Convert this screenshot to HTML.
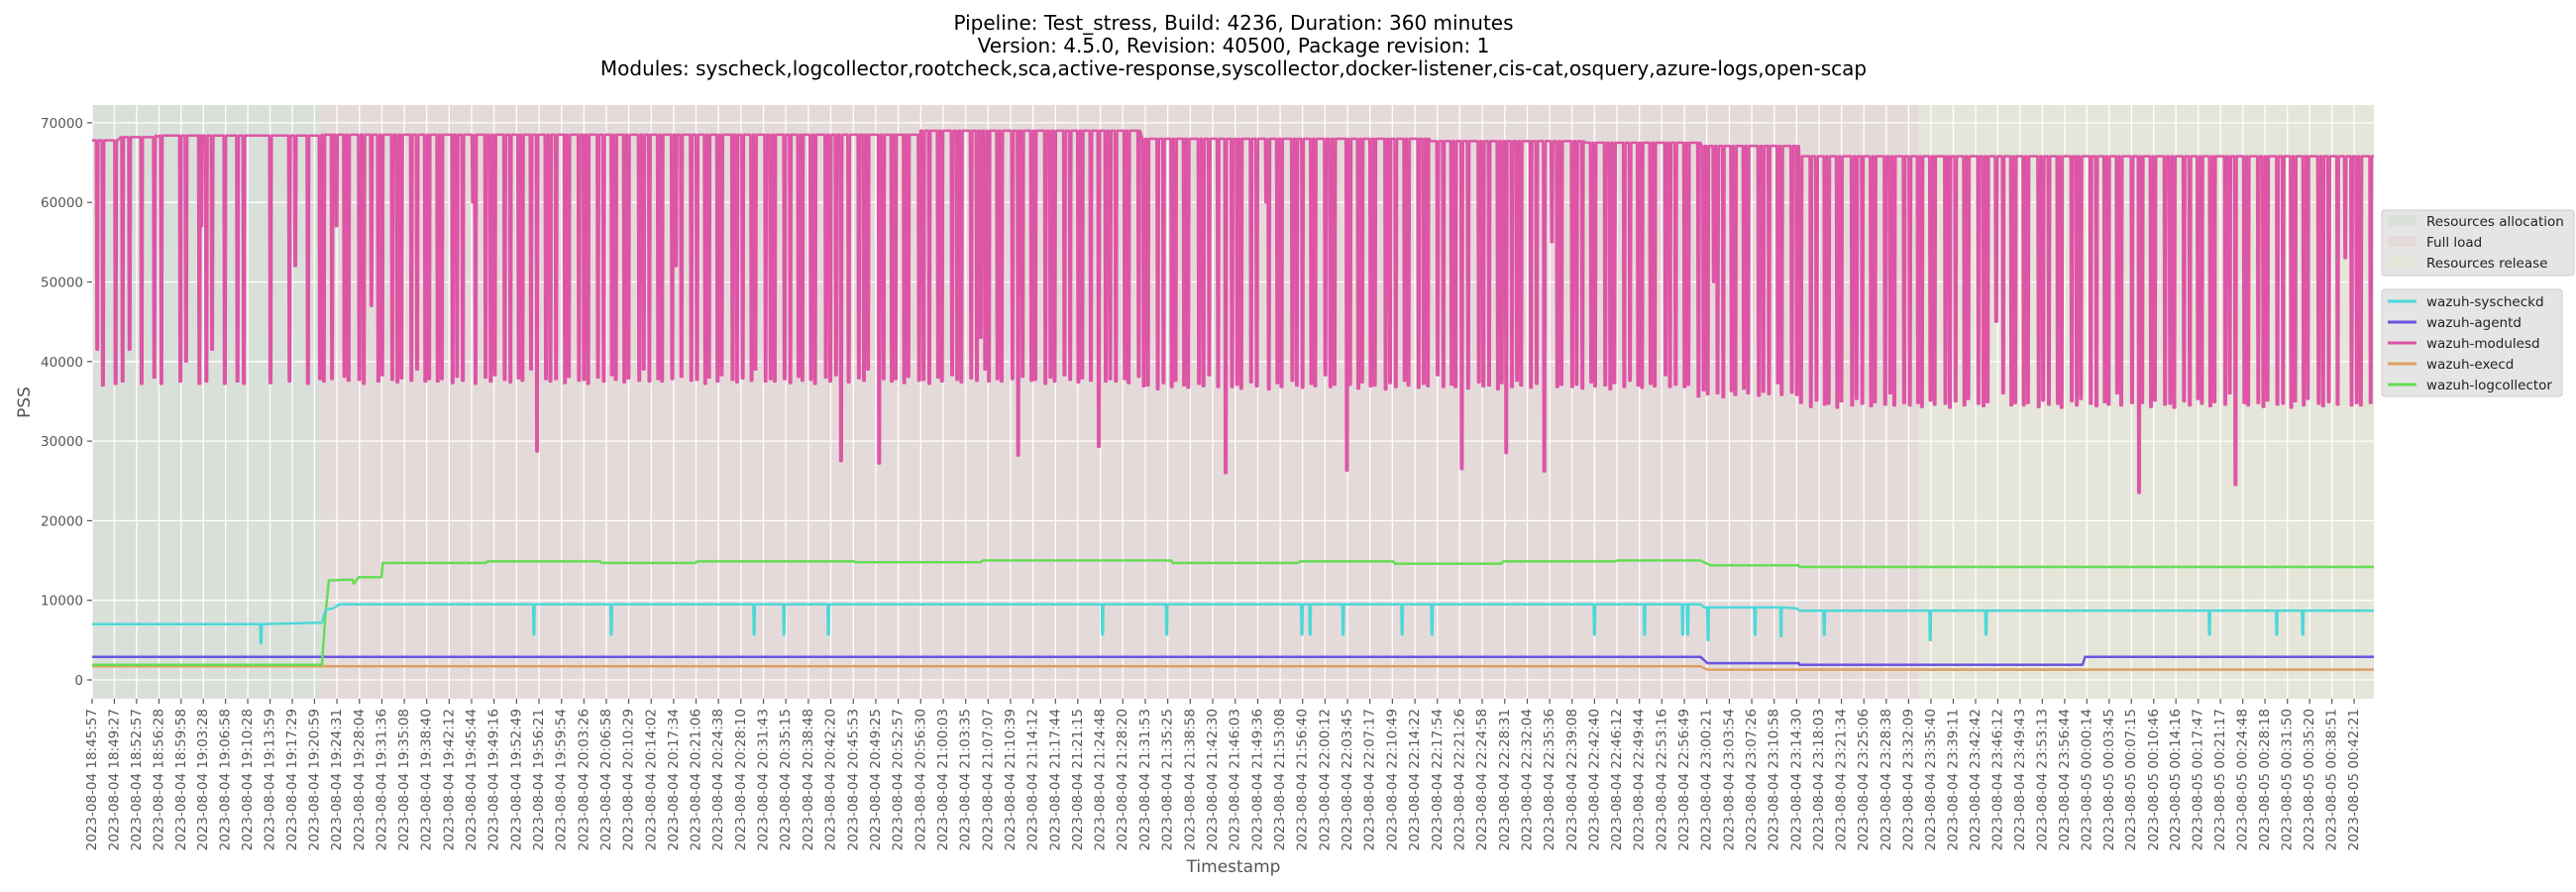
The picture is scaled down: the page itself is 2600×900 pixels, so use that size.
<!DOCTYPE html>
<html><head><meta charset="utf-8">
<style>
html,body{margin:0;padding:0;background:#fff;}
svg{display:block;font-family:"DejaVu Sans","Liberation Sans",sans-serif;}
</style></head>
<body>
<svg id="chart" width="2600" height="900" viewBox="0 0 2600 900" xmlns="http://www.w3.org/2000/svg">
  <g font-size="20" fill="#000" text-anchor="middle">
    <text x="1245" y="30">Pipeline: Test_stress, Build: 4236, Duration: 360 minutes</text>
    <text x="1245" y="53">Version: 4.5.0, Revision: 40500, Package revision: 1</text>
    <text x="1245" y="76">Modules: syscheck,logcollector,rootcheck,sca,active-response,syscollector,docker-listener,cis-cat,osquery,azure-logs,open-scap</text>
  </g>
  <rect x="93" y="106" width="2303" height="599" fill="#e5e5e5"/>
  <g id="phases"></g>
  <g id="grid"></g>
  <g id="series"></g>
  <g id="axes"></g>
  <text x="30" y="406" font-size="17" fill="#555" text-anchor="middle" transform="rotate(-90 30 406)">PSS</text>
  <text x="1245" y="880" font-size="17" fill="#555" text-anchor="middle">Timestamp</text>

  <g>
    <rect x="2404" y="212" width="194" height="66" rx="3" fill="#e5e5e5" stroke="#cccccc" stroke-width="1"/>
    <rect x="2410" y="217" width="29" height="11" fill="#d8e0d9"/>
    <text x="2449" y="228" font-size="13.5" fill="#222">Resources allocation</text>
    <rect x="2410" y="238" width="29" height="11" fill="#e5dada"/>
    <text x="2449" y="249" font-size="13.5" fill="#222">Full load</text>
    <rect x="2410" y="259" width="29" height="11" fill="#e5e5da"/>
    <text x="2449" y="270" font-size="13.5" fill="#222">Resources release</text>
  </g>
  <g>
    <rect x="2404" y="292" width="182" height="108" rx="3" fill="#e5e5e5" stroke="#cccccc" stroke-width="1"/>
    <line x1="2410" y1="304" x2="2439" y2="304" stroke="#4dd8d8" stroke-width="3"/>
    <text x="2449" y="309" font-size="13.5" fill="#222">wazuh-syscheckd</text>
    <line x1="2410" y1="325" x2="2439" y2="325" stroke="#6a55e0" stroke-width="3"/>
    <text x="2449" y="330" font-size="13.5" fill="#222">wazuh-agentd</text>
    <line x1="2410" y1="346" x2="2439" y2="346" stroke="#dd55a5" stroke-width="3"/>
    <text x="2449" y="351" font-size="13.5" fill="#222">wazuh-modulesd</text>
    <line x1="2410" y1="367" x2="2439" y2="367" stroke="#dca060" stroke-width="3"/>
    <text x="2449" y="372" font-size="13.5" fill="#222">wazuh-execd</text>
    <line x1="2410" y1="388" x2="2439" y2="388" stroke="#66dd55" stroke-width="3"/>
    <text x="2449" y="393" font-size="13.5" fill="#222">wazuh-logcollector</text>
  </g>
</svg>
<script>
// ---- data (time in minutes since 2023-08-04 18:45:57) ----
const tickTimes = ["18:45:57","18:49:27","18:52:57","18:56:28","18:59:58","19:03:28","19:06:58","19:10:28","19:13:59","19:17:29","19:20:59","19:24:31","19:28:04","19:31:36","19:35:08","19:38:40","19:42:12","19:45:44","19:49:16","19:52:49","19:56:21","19:59:54","20:03:26","20:06:58","20:10:29","20:14:02","20:17:34","20:21:06","20:24:38","20:28:10","20:31:43","20:35:15","20:38:48","20:42:20","20:45:53","20:49:25","20:52:57","20:56:30","21:00:03","21:03:35","21:07:07","21:10:39","21:14:12","21:17:44","21:21:15","21:24:48","21:28:20","21:31:53","21:35:25","21:38:58","21:42:30","21:46:03","21:49:36","21:53:08","21:56:40","22:00:12","22:03:45","22:07:17","22:10:49","22:14:22","22:17:54","22:21:26","22:24:58","22:28:31","22:32:04","22:35:36","22:39:08","22:42:40","22:46:12","22:49:44","22:53:16","22:56:49","23:00:21","23:03:54","23:07:26","23:10:58","23:14:30","23:18:03","23:21:34","23:25:06","23:28:38","23:32:09","23:35:40","23:39:11","23:42:42","23:46:12","23:49:43","23:53:13","23:56:44","00:00:14","00:03:45","00:07:15","00:10:46","00:14:16","00:17:47","00:21:17","00:24:48","00:28:18","00:31:50","00:35:20","00:38:51","00:42:21"];
const yTicks = [0,10000,20000,30000,40000,50000,60000,70000];
const phaseNames = ["allocation","full-load","release"];
const phaseBounds = [[0,36.2],[36.2,287.8],[287.8,359.5]];

const modTopT = [0,4,4.5,10,36.2,130.4,130.5,164.8,165,210.7,210.8,235,235.2,253.4,253.6,268.9,269,359.5];
const modTopV = [67800,67800,68200,68400,68500,68500,69000,69000,68000,68000,67700,67700,67500,67500,67100,67100,65800,65800];
const modBotT = [0,36,165,253,269];
const modBotV = [37200,37500,36800,35800,34500];
const modAllocDipT = [0.8,1.7,3.7,4.8,5.9,7.8,9.8,10.9,13.9,14.8,16.9,17.2,18.0,18.9,20.9,22.9,23.9,28.1,31.1,32.0,34.0,35.9];
const modAllocDipV = [41500,37000,37200,37500,41500,37200,38000,37200,37500,40000,37200,57000,37500,41500,37200,37500,37200,37300,37500,52000,37200,37800];
const modDipSegStart = [36.5];
const modDipSegEnd = [359.2];
const modDipSegStep = [1.05];
// observed irregularities of the periodic dips (minute shift, bottom offset), read cyclically
const modDipShift = [0,0.25,-0.2,0.1,-0.3,0.35,0,-0.15,0.2,-0.25,0.3,0.05,-0.35,0.15];
const modDipBotOff = [0,300,-200,600,100,200,-300,500,0,800,200,-100,400,100,1500,0,300];
const modOutlierT = [70.1,118.0,124.0,145.9,158.6,178.6,197.7,215.8,222.8,228.8,322.5,337.7];
const modOutlierV = [28700,27500,27200,28200,29300,26000,26300,26500,28500,26200,23500,24500];
const modPartialT = [38.5,44,60,92,140,185,230,255.5,300,355];
const modPartialV = [57000,47000,60000,52000,43000,60000,55000,50000,45000,53000];

const sysT = [0,36.2,36.8,38,39,253.4,254,268.5,269,359.5];
const sysV = [7000,7200,8800,9000,9500,9500,9100,9000,8700,8700];
const sysDipT = [26.6,69.6,81.8,104.3,109.0,116.0,159.2,169.3,190.6,191.9,197.1,206.4,211.1,236.7,244.6,250.6,251.4,254.6,262.0,266.1,272.9,289.6,298.4,333.6,344.2,348.3];
const sysDipV = [4600,5700,5700,5700,5700,5700,5700,5700,5700,5700,5700,5700,5700,5700,5700,5700,5700,5000,5700,5500,5700,5000,5700,5700,5700,5700];

const agentT = [0,253.4,254.5,268.9,269,313.6,314,359.5];
const agentV = [2900,2900,2100,2100,1900,1900,2900,2900];
const execT = [0,253.4,254.5,359.5];
const execV = [1700,1700,1300,1300];
const logT = [0,36.2,36.8,37.3,41,41.2,42,45.6,45.8,62,62.3,80,80.3,95,95.3,120,120.3,140,140.3,170,170.3,190,190.3,205,205.3,222,222.3,240,240.3,253.4,255,268.9,269,359.5];
const logV = [1900,1900,8500,12500,12600,12100,12900,12900,14700,14700,14900,14900,14700,14700,14900,14900,14800,14800,15000,15000,14700,14700,14900,14900,14600,14600,14900,14900,15000,15000,14400,14400,14200,14200];

// ---- scales ----
const X0 = 93, PPM = 6.406, Y0 = 686, PPV = 0.00803;
const xS = m => X0 + m * PPM;
const yS = v => Y0 - v * PPV;
const NS = "http://www.w3.org/2000/svg";
function mk(tag, attrs, parent){ const e=document.createElementNS(NS,tag); for(const k in attrs) e.setAttribute(k,attrs[k]); parent.appendChild(e); return e; }
function tickMin(s){ const p=s.split(":").map(Number); let sec=p[0]*3600+p[1]*60+p[2]-(18*3600+45*60+57); if(sec<0) sec+=86400; return sec/60; }
function stepVal(T,V,t){ let v=V[0]; for(let i=0;i<T.length;i++){ if(T[i]<=t) v=V[i]; } return v; }

// phases
const phaseColors = ["#d8e0d9","#e5dada","#e5e5da"];
const gPh = document.getElementById("phases");
phaseBounds.forEach((b,i)=>{
  const r = mk("rect",{x:xS(b[0]),y:106,width:(i===2?2396:xS(b[1]))-xS(b[0]),height:599,fill:phaseColors[i]},gPh);
  
  
});

// grid & axes
const gG = document.getElementById("grid"), gA = document.getElementById("axes");
yTicks.forEach(v=>{
  const y=yS(v);
  const gl = mk("line",{x1:93,x2:2396,y1:y,y2:y,stroke:"#fff","stroke-width":1.3},gG);
  
  
  mk("line",{x1:88,x2:93,y1:y,y2:y,stroke:"#555","stroke-width":1.2},gA);
  const t = mk("text",{x:84,y:y+5,"font-size":13.5,fill:"#555","text-anchor":"end"},gA);
  t.textContent = String(v);
  
  
});
tickTimes.forEach(s=>{
  const m = tickMin(s), x = xS(m);
  const gl = mk("line",{x1:x,x2:x,y1:106,y2:705,stroke:"#fff","stroke-width":1.3},gG);
  
  
  mk("line",{x1:x,x2:x,y1:705,y2:710,stroke:"#555","stroke-width":1.2},gA);
  const date = (s < "12") ? "2023-08-05 " : "2023-08-04 ";
  const t = mk("text",{x:x,y:715,"font-size":13.5,fill:"#555","text-anchor":"end","dominant-baseline":"central",transform:`rotate(-90 ${x} 715)`},gA);
  t.textContent = date + s;
  
  
});

// series helpers
const gS = document.getElementById("series");
function stepPath(T,V,dT,dV){
  const pts=[];
  for(let i=0;i<T.length;i++) pts.push([T[i],V[i]]);
  if(dT){ dT.forEach((t,i)=>{ const base=stepVal(T,V,t); pts.push([t-0.12,base],[t-0.06,dV[i]],[t+0.06,dV[i]],[t+0.12,base]); }); }
  pts.sort((a,b)=>a[0]-b[0]);
  return "M"+pts.map(p=>xS(p[0]).toFixed(1)+","+yS(p[1]).toFixed(1)).join("L");
}
function addLine(d,color,name,w){
  const p = mk("path",{d:d,fill:"none",stroke:color,"stroke-width":w,"stroke-linejoin":"round"},gS);
  
  
}

// modulesd
const dips=[];
modAllocDipT.forEach((t,i)=>dips.push([t,modAllocDipV[i]]));
modDipSegStart.forEach((s,k)=>{
  let n=0;
  for(let t=s;t<=modDipSegEnd[k];t+=modDipSegStep[k]){
    const tt=Math.min(modDipSegEnd[k], t+modDipShift[n%modDipShift.length]);
    dips.push([tt, stepVal(modBotT,modBotV,tt)+modDipBotOff[n%modDipBotOff.length]]);
    n++;
  }
});
function override(T,V){ T.forEach((t,i)=>{ let best=null,bd=1e9; dips.forEach(d=>{ const dd=Math.abs(d[0]-t); if(dd<bd){bd=dd;best=d;} }); if(best&&bd<0.6){best[0]=t;best[1]=V[i];} else dips.push([t,V[i]]); }); }
override(modOutlierT,modOutlierV);
override(modPartialT,modPartialV);
dips.sort((a,b)=>a[0]-b[0]);
const mpts=[];
modTopT.forEach((t,i)=>mpts.push([t,modTopV[i]]));
dips.forEach(d=>{ const top=stepVal(modTopT,modTopV,d[0]); mpts.push([d[0]-0.2,top],[d[0]-0.12,d[1]],[d[0]+0.12,d[1]],[d[0]+0.2,top]); });
mpts.sort((a,b)=>a[0]-b[0]);

addLine(stepPath(execT,execV),"#dca060","line-wazuh-execd",2.5);
addLine(stepPath(agentT,agentV),"#6a55e0","line-wazuh-agentd",2.5);
addLine(stepPath(logT,logV),"#66dd55","line-wazuh-logcollector",2.5);
addLine(stepPath(sysT,sysV,sysDipT,sysDipV),"#4dd8d8","line-wazuh-syscheckd",2.5);
addLine("M"+mpts.map(p=>xS(p[0]).toFixed(1)+","+yS(p[1]).toFixed(1)).join("L"),"#dd55a5","line-wazuh-modulesd",2.5);
</script>
</body></html>
